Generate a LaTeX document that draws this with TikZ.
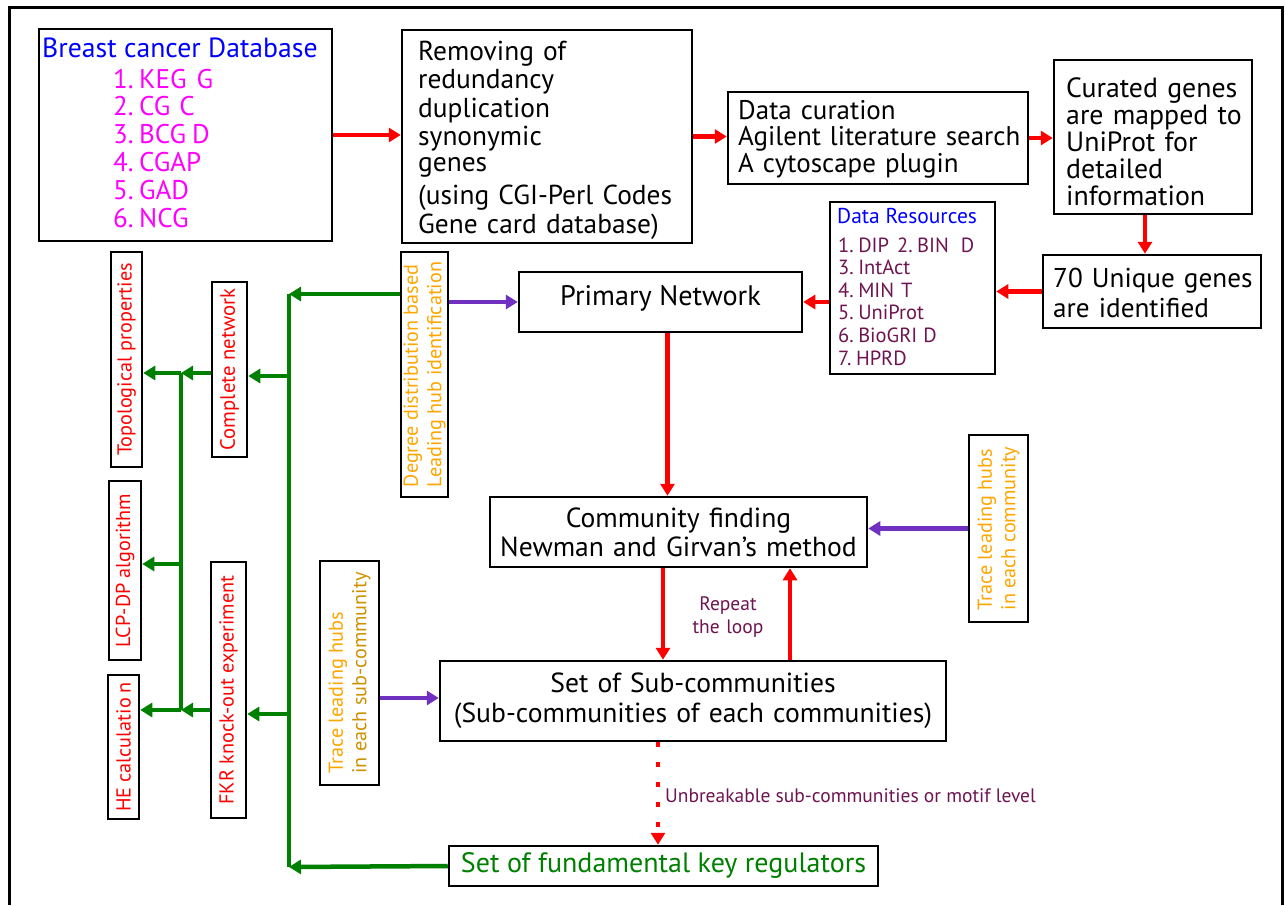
\documentclass[tikz,border=0pt]{standalone}
\usepackage{fontspec}
\setmainfont{PT Sans}
\usetikzlibrary{arrows.meta}
\definecolor{cblue}{RGB}{0,0,255}
\definecolor{cmag}{RGB}{255,0,255}
\definecolor{cred}{RGB}{255,0,0}
\definecolor{corange}{RGB}{255,165,0}
\definecolor{cgold}{RGB}{205,145,0}
\definecolor{cplum}{RGB}{110,20,80}
\definecolor{cpurple}{RGB}{112,48,192}
\definecolor{cgreen}{RGB}{0,128,0}
\newcommand{\fsz}[2]{\fontsize{#1}{#2}\selectfont}
\newcommand{\frot}{\fontsize{20.2}{23.5}\selectfont}
\newcommand{\nsp}{\hspace{5.5pt}}
\begin{document}
\begin{tikzpicture}[x=1pt,y=-1pt,
 box/.style={draw, line width=2.5pt, inner sep=0pt},
 rbox/.style={draw, line width=2.5pt, inner sep=0pt, rotate=90, align=left, font=\frot},
 txt/.style={inner sep=0pt, anchor=base west, align=left},
 ctxt/.style={inner sep=0pt, anchor=base, align=center},
 rarr/.style={draw=cred, line width=4.5pt, -{Triangle[length=12pt,width=14pt]}},
 garr/.style={draw=cgreen, line width=4.5pt, -{Triangle[length=12pt,width=14pt]}},
 parr/.style={draw=cpurple, line width=4.5pt, -{Triangle[length=12pt,width=14pt]}},
 gline/.style={draw=cgreen, line width=4.5pt},
 dotarr/.style={draw=cred, line width=4.5pt, dash pattern=on 5pt off 15pt, -{Triangle[length=12pt,width=14pt]}}]
\useasboundingbox (0,0) rectangle (1285,905);
% outer frame
\draw[line width=3pt] (9,905) -- (9,7) -- (1282,7) -- (1282,905);

% ---------- boxes ----------
\node[box, minimum width=293pt, minimum height=212pt] (bc) at (185.5,135) {};
\node[box, minimum width=290pt, minimum height=213pt] (rem) at (547,136.5) {};
\node[box, minimum width=300pt, minimum height=92pt] (cur) at (878,138) {};
\node[box, minimum width=198pt, minimum height=154pt] (cg) at (1153,137) {};
\node[box, minimum width=218pt, minimum height=73pt] (uniq) at (1152,291.5) {};
\node[box, minimum width=165pt, minimum height=172pt] (dr) at (912.5,288) {};
\node[box, minimum width=283pt, minimum height=60pt] (prim) at (660.5,302) {};
\node[box, minimum width=377pt, minimum height=70pt] (comm) at (678.5,532) {};
\node[box, minimum width=506pt, minimum height=80pt] (sub) at (693,701) {};
\node[box, minimum width=429pt, minimum height=40pt] (fund) at (663.5,866) {};

% ---------- texts in boxes ----------
\node[txt, text=cblue, font=\fsz{27.7}{30}] (bctitle) at (42,57) {Breast cancer Database};
\node[txt, text=cmag, text width=200pt, font=\fsz{27}{27.8}] (bclist) at (113,88)
 {1.\nsp KEG\hspace{10pt}G\\2.\nsp CG C\\3.\nsp BCG\hspace{6pt}D\\4.\nsp CGAP\\5.\nsp GAD\\6.\nsp NCG};
\node[txt, text width=285pt, font=\fsz{27.4}{28.5}] (remtxt) at (418,60)
 {Removing of\\redundancy\\duplication\\synonymic\\[-3pt]genes\\[5pt](using CGI-Perl Codes\\Gene card database)};
\node[txt, text width=295pt, font=\fsz{27}{26.5}] (curtxt) at (738,119)
 {Data curation\\Agilent literature search\\A cytoscape plugin};
\node[txt, text width=190pt, font=\fsz{27.8}{27}] (cgtxt) at (1066,97)
 {Curated genes\\are mapped to\\UniProt for\\detailed\\information};
\node[txt, text width=210pt, font=\fsz{27.2}{30}] (uniqtxt) at (1053,287)
 {70 Unique genes\\are identified};
\node[txt, text=cblue, font=\fsz{21.5}{22}] (drtitle) at (837,223) {Data Resources};
\node[txt, text=cplum, text width=160pt, font=\fsz{20.5}{22.6}] (drlist) at (838,252)
 {1.\hspace{4.5pt}DIP\hspace{8pt}2.\hspace{4.5pt}BIN\hspace{12pt}D\\3.\hspace{4.5pt}IntAct\\4.\hspace{4.5pt}MIN T\\5.\hspace{4.5pt}UniProt\\6.\hspace{4.5pt}BioGRI\hspace{6pt}D\\7.\hspace{4.5pt}HPRD};
\node[ctxt, font=\fsz{28.2}{28}] (primtxt) at (660.5,305) {Primary Network};
\node[ctxt, text width=370pt, font=\fsz{27.6}{29}] (commtxt) at (678.5,527)
 {Community finding\\Newman and Girvan’s method};
\node[ctxt, text width=500pt, font=\fsz{27.6}{30}] (subtxt) at (693,692)
 {Set of Sub-communities\\(Sub-communities of each communities)};
\node[ctxt, text=cgreen, font=\fsz{28}{28}] (fundtxt) at (663.5,872) {Set of fundamental key regulators};
\node[ctxt, text=cplum, text width=110pt, font=\fsz{19.5}{23}] (loop) at (728,610) {Repeat\\the loop};
\node[txt, text=cplum, font=\fsz{19.5}{20}] (unbr) at (665,802) {Unbreakable sub-communities or motif level};

% ---------- rotated boxes ----------
\node[rbox, minimum width=215pt, minimum height=31pt, text=cred] (topo) at (126.5,359.5) {Topological properties};
\node[rbox, minimum width=175pt, minimum height=35pt, text=cred, font=\fsz{20.7}{24}] (cnet) at (229.5,369.5) {Complete network};
\node[rbox, minimum width=245pt, minimum height=47pt, text=corange] (deg) at (424.5,374.5) {Degree distribution based\\Leading hub identification};
\node[rbox, minimum width=179pt, minimum height=32pt, text=cred] (lcp) at (125,570.5) {LCP-DP algorithm};
\node[rbox, minimum width=144pt, minimum height=31pt, text=cred] (he) at (123.5,747) {HE calculatio\hspace{5pt}n};
\node[rbox, minimum width=256pt, minimum height=35pt, text=cred] (fkr) at (228.5,690) {FKR knock-out experiment};
\node[rbox, minimum width=224pt, minimum height=59pt] (tsub) at (349.5,673) {\textcolor{corange}{Trace leading hubs}\\\textcolor{cgold}{in each sub-community}};
\node[rbox, minimum width=187pt, minimum height=59pt, text=corange] (tcom) at (998.5,528.5) {Trace leading hubs\\in each community};

% ---------- green tree ----------
\coordinate (t1a) at (289,294);
\coordinate (t1b) at (289,867);
\coordinate (t1c) at (289,376);
\coordinate (t1d) at (289,714);
\coordinate (t2a) at (181,373);
\coordinate (t2b) at (181,710);
\coordinate (t2c) at (181,564);
\draw[gline] (t1a) -- (t1b);
\draw[gline] (t2a) -- (t2b);
\draw[garr] (deg.north |- t1a) -- (t1a);
\draw[garr] (fund.west) -- (t1b);
\draw[garr] (t1c) -- (t1c -| cnet.south);
\draw[garr] (t1d) -- (t1d -| fkr.south);
\draw[garr] (cnet.north |- t2a) -- (t2a);
\draw[garr] (fkr.north |- t2b) -- (t2b);
\draw[garr] (t2a) -- (t2a -| topo.south);
\draw[garr] (t2c) -- (t2c -| lcp.south);
\draw[garr] (t2b) -- (t2b -| he.south);

% ---------- red arrows ----------
\draw[rarr] (bc.east) -- (bc.east -| rem.west);
\draw[rarr] (rem.east) -- (rem.east -| cur.west);
\draw[rarr] (cur.east) -- (cur.east -| cg.west);
\draw[rarr] ([xshift=-8pt]cg.south) -- ([xshift=-8pt]cg.south |- uniq.north);
\draw[rarr] (uniq.west) -- (uniq.west -| dr.east);
\draw[rarr] (dr.west |- prim.east) -- (prim.east);
\draw[rarr] ([xshift=7pt]prim.south) -- ([xshift=7pt]prim.south |- comm.north);
\draw[rarr] (663,0 |- comm.south) -- (663,0 |- sub.north);
\draw[rarr] (790,0 |- sub.north) -- (790,0 |- comm.south);
\draw[dotarr] (658,0 |- sub.south) -- (658,0 |- fund.north);

% ---------- purple arrows ----------
\draw[parr] (deg.south |- prim.west) -- (prim.west);
\draw[parr] (tsub.south |- 0,698) -- (sub.west |- 0,698);
\draw[parr] (tcom.north) -- (tcom.north -| comm.east);
\end{tikzpicture}
\end{document}
